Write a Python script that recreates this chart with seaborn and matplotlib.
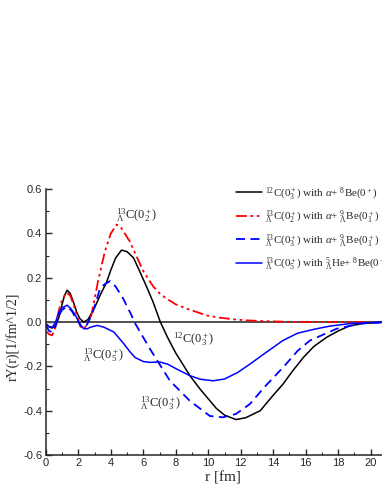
import matplotlib
matplotlib.use('Agg')
import matplotlib.pyplot as plt
import seaborn as sns
import pandas as pd

# r [fm] and rY(r)
r_c12 = [0.0, 0.2, 0.39, 0.6, 0.8, 1.0, 1.15, 1.31, 1.5, 1.7, 1.9, 2.1, 2.34, 2.6, 3.0, 3.4,
         3.74, 4.0, 4.3, 4.66, 5.0, 5.4, 5.79, 6.2, 6.6, 7.05, 7.5, 8.0, 8.87, 9.5, 10.5, 11.0,
         11.7, 12.3, 13.2, 14.0, 14.6, 15.2, 15.85, 16.5, 17.3, 18.0, 18.7, 19.5, 20.6, 21.8]
y_c12 = [-0.01, -0.022, -0.027, -0.015, 0.02, 0.08, 0.12, 0.144, 0.13, 0.09, 0.045, 0.015, 0.0,
         0.012, 0.065, 0.13, 0.18, 0.235, 0.29, 0.325, 0.318, 0.29, 0.227, 0.16, 0.091, 0.0,
         -0.07, -0.14, -0.242, -0.303, -0.39, -0.42, -0.44, -0.432, -0.40, -0.33, -0.28, -0.22,
         -0.16, -0.11, -0.068, -0.04, -0.017, -0.007, -0.001, 0.0]

r_c02 = [0.0, 0.2, 0.39, 0.6, 0.8, 1.0, 1.27, 1.5, 1.72, 1.95, 2.13, 2.34, 2.55, 2.75, 2.91,
         3.2, 3.63, 4.0, 4.35, 4.6, 5.17, 5.5, 6.0, 6.6, 7.0, 7.43, 8.0, 8.66, 9.3, 9.9, 10.7,
         11.5, 12.3, 13.2, 14.5, 16.0, 18.0, 21.8]
y_c02 = [-0.04, -0.055, -0.06, -0.02, 0.053, 0.1, 0.133, 0.12, 0.076, 0.02, -0.02, -0.03,
         -0.01, 0.015, 0.07, 0.18, 0.318, 0.40, 0.44, 0.43, 0.364, 0.31, 0.23, 0.162, 0.13,
         0.106, 0.08, 0.061, 0.045, 0.03, 0.02, 0.013, 0.008, 0.005, 0.002, 0.0, 0.0, 0.0]

r_c03 = [0.0, 0.2, 0.39, 0.6, 0.8, 1.0, 1.31, 1.6, 1.83, 2.1, 2.34, 2.5, 2.85, 3.33, 3.6,
         3.95, 4.3, 4.76, 5.28, 5.45, 6.4, 7.64, 8.87, 10.1, 10.9, 11.7, 12.56, 13.5, 14.6,
         15.5, 16.26, 17.9, 19.5, 21.8]
y_c03 = [-0.015, -0.04, -0.045, -0.02, 0.03, 0.055, 0.07, 0.05, 0.02, -0.01, -0.03, -0.015,
         0.035, 0.15, 0.17, 0.185, 0.16, 0.106, 0.03, 0.0, -0.12, -0.265, -0.356, -0.424,
         -0.43, -0.415, -0.37, -0.29, -0.205, -0.13, -0.083, -0.03, -0.005, 0.0]

r_c05 = [0.0, 0.2, 0.39, 0.6, 0.8, 1.0, 1.31, 1.55, 1.83, 2.13, 2.34, 2.55, 2.75, 3.16, 3.57,
         4.19, 4.8, 5.2, 5.5, 6.0, 6.4, 7.0, 7.5, 8.0, 8.87, 9.5, 10.3, 11.0, 11.8, 12.56,
         13.5, 14.6, 15.5, 16.67, 17.5, 18.7, 20.6, 21.8]
y_c05 = [-0.008, -0.02, -0.023, 0.0, 0.045, 0.065, 0.076, 0.06, 0.03, -0.015, -0.03, -0.03,
         -0.023, -0.015, -0.023, -0.045, -0.098, -0.136, -0.16, -0.178, -0.182, -0.18, -0.19,
         -0.21, -0.242, -0.258, -0.265, -0.257, -0.228, -0.19, -0.14, -0.083, -0.05, -0.03,
         -0.018, -0.007, 0.0, 0.0]

labels = [
    r'$^{12}$C($0_3^+$) with $\alpha$+ $^{8}$Be($0^+$)',
    r'$^{13}_{\Lambda}$C($0_2^+$) with $\alpha$+ $^{9}_{\Lambda}$Be($0_1^+$)',
    r'$^{13}_{\Lambda}$C($0_3^+$) with $\alpha$+ $^{9}_{\Lambda}$Be($0_1^+$)',
    r'$^{13}_{\Lambda}$C($0_5^+$) with $^{5}_{\Lambda}$He+ $^{8}$Be($0^+$)',
]

sns.set_style('ticks')
plt.rcParams['font.family'] = ['Liberation Sans', 'DejaVu Sans']
plt.rcParams['mathtext.fontset'] = 'custom'
plt.rcParams['mathtext.rm'] = 'Liberation Serif'
plt.rcParams['mathtext.it'] = 'Liberation Serif:italic'
plt.rcParams['xtick.direction'] = 'in'
plt.rcParams['ytick.direction'] = 'in'

fig = plt.figure(figsize=(3.82, 4.94), dpi=100)
ax = fig.add_axes([0.120, 0.079, 0.927, 0.538])

ax.axhline(0, color='#505050', lw=1.4, zorder=1)

sns.lineplot(x=r_c12, y=y_c12, ax=ax, color='black', lw=1.1, label=labels[0], sort=False)
sns.lineplot(x=r_c02, y=y_c02, ax=ax, color='red', lw=1.3, label=labels[1], sort=False,
             linestyle=(0, (6, 2, 1.5, 2, 1.5, 2)))
sns.lineplot(x=r_c03, y=y_c03, ax=ax, color='blue', lw=1.3, label=labels[2], sort=False,
             linestyle=(0, (5, 3)))
sns.lineplot(x=r_c05, y=y_c05, ax=ax, color='blue', lw=1.1, label=labels[3], sort=False)

ax.set_xlim(0, 21.8)
ax.set_ylim(-0.6, 0.6)
ax.set_xticks(range(0, 21, 2))
ax.set_xticks(range(1, 22, 2), minor=True)
ax.set_yticks([-0.6, -0.4, -0.2, 0.0, 0.2, 0.4, 0.6])
ax.set_yticks([-0.5, -0.3, -0.1, 0.1, 0.3, 0.5], minor=True)
ax.set_yticklabels(['-0.6', '-0.4', '-0.2', '0.0', '0.2', '0.4', '0.6'])
ax.tick_params(which='major', length=4, width=1, labelsize=8, pad=2.5)
ax.tick_params(which='minor', length=2, width=0.8)
sns.despine(ax=ax)
ax.spines['left'].set_linewidth(1.1)
ax.spines['bottom'].set_linewidth(1.1)

ax.set_xlabel('r [fm]', family='Liberation Serif', fontsize=11, labelpad=2)
ax.set_ylabel('rY(r)[1/fm^1/2]', family='Liberation Serif', fontsize=10)
ax.yaxis.set_label_coords(-0.075, 0.445)

ax.legend(loc='upper left', bbox_to_anchor=(0.508, 1.052), frameon=False,
          prop={'family': 'Liberation Serif', 'size': 7.9}, handlelength=2.4,
          handletextpad=0.3, labelspacing=0.6)

fs = 9
ax.text(4.3, 0.445, r'$^{13}_{\Lambda}$C($0_2^+$)', family='Liberation Serif', fontsize=fs,
        ha='left', va='bottom')
ax.text(7.8, -0.078, r'$^{12}$C($0_3^+$)', family='Liberation Serif', fontsize=fs,
        ha='left', va='center')
ax.text(2.3, -0.148, r'$^{13}_{\Lambda}$C($0_5^+$)', family='Liberation Serif', fontsize=fs,
        ha='left', va='center')
ax.text(5.8, -0.368, r'$^{13}_{\Lambda}$C($0_3^+$)', family='Liberation Serif', fontsize=fs,
        ha='left', va='center')

fig.savefig('out.png', dpi=100)
